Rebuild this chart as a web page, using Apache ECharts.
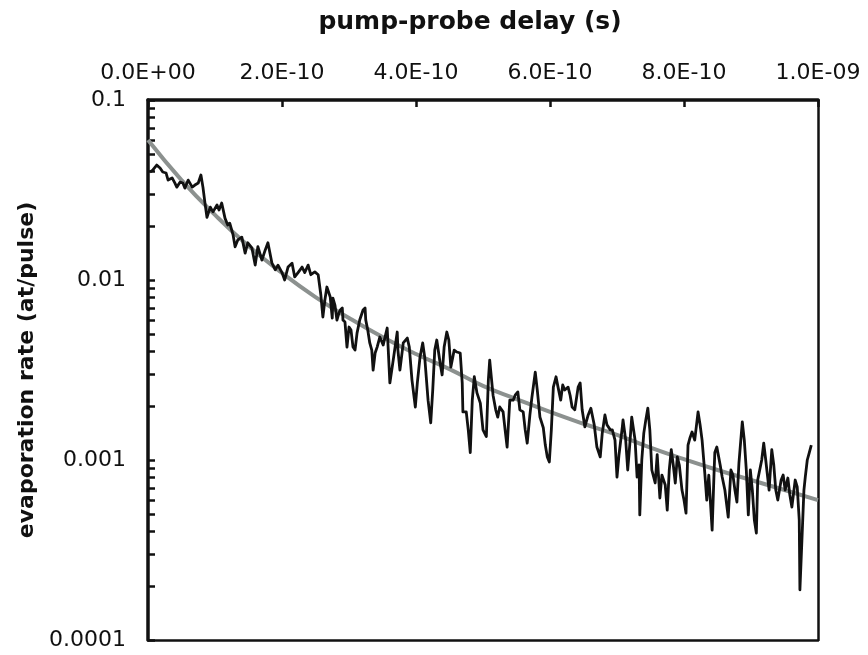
<!DOCTYPE html>
<html>
<head>
<meta charset="utf-8">
<script src="https://cdn.jsdelivr.net/npm/echarts@6/dist/echarts.min.js"></script>
<style>
html,body{margin:0;padding:0;background:#fff;}
#chart{width:868px;height:655px;}
</style>
</head>
<body>
<div id="chart"></div>
<script>
// Measured evaporation rate vs pump-probe delay (delay in picoseconds)
const delayPs = [3,7,13,18,22,27,30,36,40,43,48,52,55,60,66,70,75,79,82,85,88,93,97,103,106,110,115,119,122,127,130,134,140,145,149,155,160,164,170,175,179,185,190,194,200,204,209,215,219,224,230,234,239,243,249,254,258,261,264,267,272,275,276,279,282,285,287,290,291,294,297,300,303,306,309,312,316,321,324,325,328,331,334,336,339,342,346,351,357,361,366,372,373,376,381,387,390,394,399,402,406,410,413,418,422,425,428,431,436,439,442,446,449,452,457,461,466,469,470,475,478,481,484,487,491,496,500,505,508,510,515,519,522,525,530,533,536,540,545,548,552,555,560,563,566,570,573,578,581,585,590,593,596,599,602,605,609,612,616,619,622,627,630,633,637,642,645,648,652,657,661,666,670,675,678,682,685,690,693,697,700,703,708,709,713,716,719,722,727,730,733,734,737,740,743,746,749,752,757,760,764,767,772,775,778,781,784,787,790,793,797,800,803,806,809,812,816,821,824,827,831,834,837,842,845,846,849,854,857,861,866,870,873,876,879,882,887,890,893,896,899,902,905,908,910,913,916,919,922,927,931,934,937,940,945,948,951,955,958,961,966,969,972,973,976,979,981,984,987,990];
const rate = [0.0398,0.0408,0.0435,0.0419,0.0398,0.0393,0.0359,0.0369,0.0346,0.0328,0.0350,0.0346,0.0324,0.0359,0.0328,0.0337,0.0346,0.0383,0.0328,0.0268,0.0223,0.0254,0.0239,0.0261,0.0245,0.0268,0.0220,0.0202,0.0207,0.0178,0.0153,0.0167,0.0173,0.0141,0.0161,0.0151,0.0121,0.0153,0.0129,0.0147,0.0161,0.0124,0.0114,0.0121,0.0110,0.0100,0.0118,0.0124,0.0104,0.0110,0.0118,0.0110,0.0121,0.0107,0.0111,0.0107,0.00825,0.00623,0.00774,0.00914,0.00804,0.00615,0.00794,0.00726,0.00599,0.00655,0.00681,0.00699,0.00599,0.00584,0.00424,0.00548,0.00527,0.00424,0.00408,0.00507,0.00599,0.00681,0.00699,0.00599,0.00527,0.00447,0.00408,0.00316,0.00393,0.00424,0.00482,0.00435,0.00541,0.00268,0.00359,0.00514,0.00408,0.00316,0.00447,0.00476,0.00424,0.00278,0.00197,0.00268,0.00373,0.00447,0.00373,0.00215,0.00161,0.00245,0.00408,0.00464,0.00346,0.00297,0.00424,0.00514,0.00464,0.00328,0.00408,0.00398,0.00393,0.00268,0.00185,0.00185,0.00147,0.00110,0.00215,0.00290,0.00236,0.00207,0.00147,0.00135,0.00278,0.00359,0.00229,0.00190,0.00173,0.00197,0.00185,0.00147,0.00118,0.00215,0.00215,0.00229,0.00239,0.00190,0.00185,0.00147,0.00124,0.00178,0.00223,0.00308,0.00245,0.00173,0.00151,0.00121,0.00104,0.000975,0.00147,0.00254,0.00290,0.00254,0.00215,0.00261,0.00245,0.00254,0.00229,0.00197,0.00190,0.00254,0.00268,0.00190,0.00153,0.00178,0.00194,0.00157,0.00118,0.00104,0.00141,0.00178,0.00157,0.00147,0.00147,0.00129,0.000804,0.00107,0.00153,0.00167,0.00129,0.000880,0.00121,0.00173,0.00129,0.000804,0.000938,0.000495,0.00100,0.00141,0.00167,0.00194,0.00147,0.000880,0.000745,0.00107,0.000615,0.000825,0.000726,0.000527,0.000880,0.00114,0.000938,0.000745,0.00104,0.000938,0.000681,0.000599,0.000507,0.00121,0.00133,0.00143,0.00129,0.00185,0.00157,0.00129,0.000847,0.000599,0.000825,0.000408,0.000880,0.00110,0.00118,0.000938,0.000804,0.000681,0.000482,0.000880,0.000825,0.000681,0.000584,0.000962,0.00163,0.00129,0.000880,0.000495,0.000880,0.000681,0.000464,0.000393,0.000774,0.000880,0.00100,0.00124,0.00100,0.000681,0.00114,0.000938,0.000681,0.000599,0.000774,0.000825,0.000681,0.000794,0.000639,0.000548,0.000774,0.000708,0.000464,0.000190,0.000359,0.000681,0.000804,0.00100,0.00110,0.00121];
// Fitted curve (grey)
const fitDelayPs = [0,50,100,150,200,250,300,350,400,450,500,550,600,650,700,750,800,850,900,950,1000];
const fitRate = [0.0599,0.0359,0.0230,0.01545,0.01094,0.00804,0.00615,0.00482,0.00388,0.00320,0.00258,0.00218,0.00185,0.00159,0.00138,0.00117,0.00101,0.000880,0.000774,0.000681,0.000599];
// Axis ticks
const xTicks = [0, 2e-10, 4e-10, 6e-10, 8e-10, 1e-9];
const yLabels = [0.0001, 0.001, 0.01, 0.1];
const yTickMantissas = [1,2,3,4,5,6,7,8,9];

const yTickValues = [];
[0.0001, 0.001, 0.01].forEach(d => yTickMantissas.forEach(m => yTickValues.push(Number((d*m).toPrecision(3)))));
yTickValues.push(0.1);

function sci(v) {
  if (Math.abs(v) < 1e-20) return '0.0E+00';
  let e = Math.floor(Math.log10(Math.abs(v)) + 1e-9);
  let m = v / Math.pow(10, e);
  return m.toFixed(1) + 'E' + (e < 0 ? '-' : '+') + String(Math.abs(e)).padStart(2, '0');
}

const dataSeries = delayPs.map((d, i) => [d * 1e-12, rate[i]]);
const fitSeries = fitDelayPs.map((d, i) => [d * 1e-12, fitRate[i]]);

const FONT = 'DejaVu Sans';
const chart = echarts.init(document.getElementById('chart'), null, {renderer: 'canvas'});
chart.setOption({
  animation: false,
  backgroundColor: '#fff',
  title: {
    text: 'pump-probe delay (s)', left: 465, top: 5, textAlign: 'center',
    textStyle: {fontFamily: FONT, fontWeight: 'bold', fontSize: 25, color: '#111'}
  },
  grid: {left: 148, right: 50, top: 100, bottom: 15, containLabel: false, outerBoundsMode: 'none'},
  xAxis: [{
    type: 'value', position: 'top', min: 0, max: 1e-9, interval: 2e-10,
    axisLine: {show: true, lineStyle: {color: '#111', width: 3.5}},
    axisTick: {show: true, inside: true, length: 7, customValues: xTicks, lineStyle: {color: '#111', width: 2.5}},
    axisLabel: {show: true, margin: 16, customValues: xTicks, formatter: sci, fontFamily: FONT, fontSize: 22, color: '#111'},
    splitLine: {show: false}
  }, {
    type: 'value', position: 'bottom', min: 0, max: 1e-9, gridIndex: 0,
    axisLine: {show: true, onZero: false, lineStyle: {color: '#111', width: 2.5}},
    axisTick: {show: false}, axisLabel: {show: false}, splitLine: {show: false}
  }],
  yAxis: [{
    type: 'log', logBase: 10, min: 0.0001, max: 0.1, position: 'left',
    name: 'evaporation rate (at/pulse)', nameLocation: 'middle', nameGap: 108, nameRotate: 90,
    nameTextStyle: {fontFamily: FONT, fontWeight: 'bold', fontSize: 22, color: '#111'},
    axisLine: {show: true, lineStyle: {color: '#111', width: 3.5}},
    axisTick: {show: true, inside: true, length: 7, customValues: yTickValues, lineStyle: {color: '#111', width: 2.5}},
    axisLabel: {show: true, margin: 22, customValues: yLabels,
      formatter: v => String(Number(Number(v).toPrecision(1))),
      fontFamily: FONT, fontSize: 22, color: '#111'},
    splitLine: {show: false}, minorTick: {show: false}
  }, {
    type: 'log', logBase: 10, min: 0.0001, max: 0.1, position: 'right',
    axisLine: {show: true, onZero: false, lineStyle: {color: '#111', width: 2.5}},
    axisTick: {show: false}, axisLabel: {show: false}, splitLine: {show: false}
  }],
  series: [{
    name: 'fit', type: 'line', xAxisIndex: 0, yAxisIndex: 0, data: fitSeries,
    smooth: true, showSymbol: false, symbol: 'none',
    lineStyle: {color: '#8c918f', width: 4}, z: 2
  }, {
    name: 'data', type: 'line', xAxisIndex: 0, yAxisIndex: 0, data: dataSeries,
    showSymbol: false, symbol: 'none',
    lineStyle: {color: '#111', width: 2.8, join: 'round'}, z: 3
  }]
});
</script>
</body>
</html>
